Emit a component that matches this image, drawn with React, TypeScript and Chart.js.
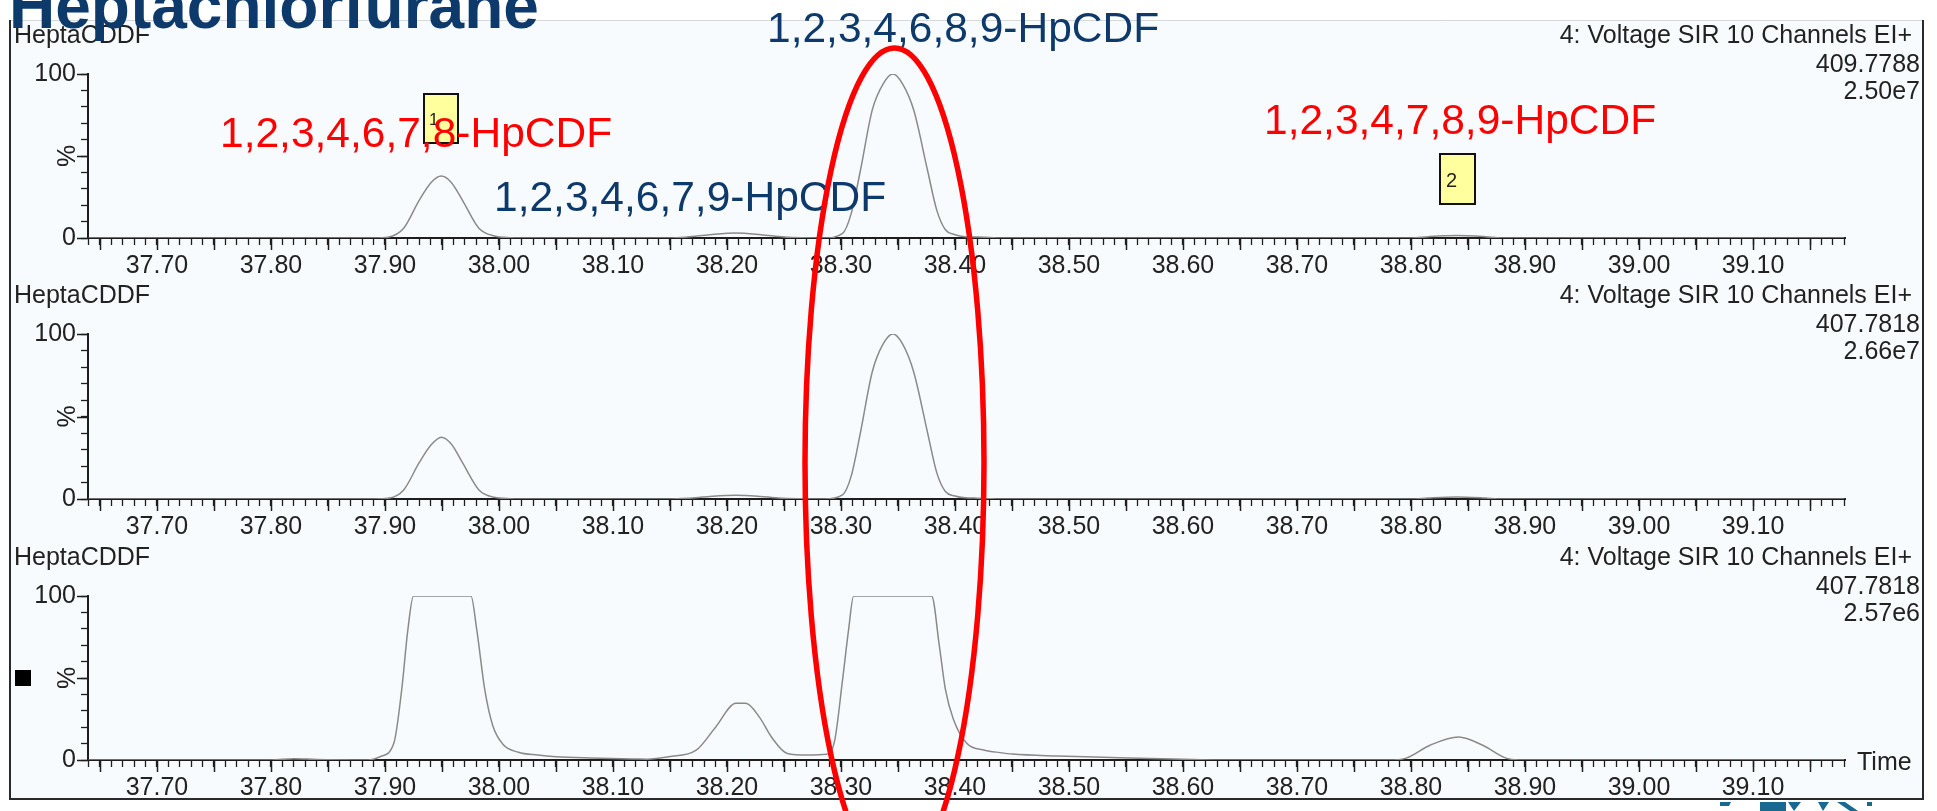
import React, { useEffect, useRef } from 'react';
import { Chart, registerables } from 'chart.js';

Chart.register(...registerables);

// ---------------- data ----------------
const xLabelValues = [37.7, 37.8, 37.9, 38.0, 38.1, 38.2, 38.3, 38.4, 38.5, 38.6, 38.7, 38.8, 38.9, 39.0, 39.1];
const yLabelValues = [0, 100];

const panelNames = ['HeptaCDDF', 'HeptaCDDF', 'HeptaCDDF'];
const panelFunctions = ['4: Voltage SIR 10 Channels EI+', '4: Voltage SIR 10 Channels EI+', '4: Voltage SIR 10 Channels EI+'];
const panelMasses = ['409.7788', '407.7818', '407.7818'];
const panelScales = ['2.50e7', '2.66e7', '2.57e6'];

const p1Time = [37.64, 37.89, 37.9026, 37.9164, 37.93, 37.9407, 37.9494, 37.958, 37.968, 37.9824, 37.996, 38.01, 38.03,
  38.15, 38.165, 38.185, 38.208, 38.23, 38.25, 38.265,
  38.285, 38.3014, 38.309, 38.317, 38.3274, 38.337, 38.3456, 38.354, 38.3638, 38.376, 38.384, 38.3916, 38.4, 38.409, 38.42, 38.43, 38.44,
  38.8, 38.815, 38.84, 38.865, 38.88, 39.18];
const p1Intensity = [0, 0, 0.5, 5.9, 23, 34, 37.8, 34, 23, 6, 1.2, 0.2, 0,
  0, 0.6, 2, 3, 2, 0.6, 0.1,
  0, 2.8, 15, 41, 78, 94, 100, 94, 78, 41, 17, 5, 2, 0.8, 0.6, 0.3, 0,
  0, 0.8, 1.5, 0.8, 0, 0];

const p2Time = [37.64, 37.89, 37.9026, 37.9164, 37.93, 37.9407, 37.9494, 37.958, 37.968, 37.9824, 37.996, 38.01, 38.03,
  38.15, 38.165, 38.185, 38.208, 38.23, 38.25, 38.265,
  38.285, 38.3014, 38.309, 38.317, 38.3274, 38.337, 38.3456, 38.354, 38.3638, 38.376, 38.384, 38.3916, 38.4, 38.409, 38.42, 38.43, 38.44,
  38.8, 38.815, 38.84, 38.865, 38.88, 39.18];
const p2Intensity = [0, 0, 0.4, 5.5, 22, 33, 37.5, 33.5, 22, 5.5, 1, 0.2, 0,
  0, 0.4, 1.5, 2.2, 1.5, 0.4, 0.1,
  0, 2.5, 14, 40, 77, 94, 100, 94, 77, 40, 16, 4.5, 1.8, 0.7, 0.5, 0.2, 0,
  0, 0.6, 1.2, 0.6, 0, 0];

const p3Time = [37.64, 37.8, 37.82, 37.84, 37.885, 37.8956, 37.9077, 37.9147, 37.92, 37.925, 37.9754, 37.9806, 37.9875, 37.9945,
  38.0032, 38.017, 38.034, 38.05, 38.08, 38.12, 38.13, 38.1489, 38.173, 38.19, 38.2078, 38.2165, 38.2286, 38.239, 38.2529,
  38.2702, 38.2875, 38.2945, 38.3014, 38.3066, 38.3111, 38.3795, 38.3864, 38.3916, 38.3985, 38.4105, 38.426, 38.4395, 38.4504,
  38.49, 38.5444, 38.6, 38.65, 38.78, 38.795, 38.8167, 38.8417, 38.863, 38.884, 38.9, 39.18];
const p3Intensity = [0, 0, 0.8, 0.3, 0, 2, 10, 43, 79, 100, 100, 79, 43, 21,
  9.8, 4.7, 3, 2, 1.2, 0.6, 0.5, 2, 6, 20, 34.6, 34.6, 26, 14, 4,
  3, 3.5, 12, 49, 79, 100, 100, 69, 43, 25, 10, 6, 4.5, 3.6,
  2.4, 1.4, 0.5, 0, 0, 1, 9, 14, 9, 1, 0, 0];

const panelTimes = [p1Time, p2Time, p3Time];
const panelIntensities = [p1Intensity, p2Intensity, p3Intensity];

const titleText = 'Heptachlorfurane';
const peakLabelTexts = ['1,2,3,4,6,7,8-HpCDF', '1,2,3,4,6,7,9-HpCDF', '1,2,3,4,6,8,9-HpCDF', '1,2,3,4,7,8,9-HpCDF'];
const peakMarkerTexts = ['1', '2'];

// ---------------- layout & style ----------------
const W = 1937;
const H = 811;
const PLOT_L = 88;
const PLOT_R = 1845;
const PANEL_T = [74, 334, 596];
const PANEL_B = [238, 499, 760];
const X_MIN = 37.6395;
const X_MAX = 39.1807;
const Y_W = 60;
const X_H = 40;
const FONT = '"Liberation Sans", Arial, sans-serif';
const AXIS = '#1e1e1e';
const TEXT = '#222222';
const TRACE = '#8a8a8a';
const NAVY = '#0d3a6a';
const RED = '#ff0000';

const peakLabelStyle = [
  { x: 220, y: 147, color: RED },
  { x: 494, y: 211, color: NAVY },
  { x: 767, y: 42, color: NAVY },
  { x: 1264, y: 134, color: RED },
];
const markerBoxes = [
  { x: 424, y: 94, w: 34, h: 49, tx: 429, ty: 125, size: 17 },
  { x: 1440, y: 154, w: 35, h: 50, tx: 1446, ty: 187, size: 20 },
];

function seg(ctx: CanvasRenderingContext2D, x1: number, y1: number, x2: number, y2: number) {
  ctx.beginPath();
  ctx.moveTo(x1, y1);
  ctx.lineTo(x2, y2);
  ctx.stroke();
}

const backgroundPlugin = {
  id: 'bgFrame',
  beforeDraw(chart: any) {
    const ctx = chart.ctx as CanvasRenderingContext2D;
    ctx.save();
    ctx.fillStyle = '#ffffff';
    ctx.fillRect(0, 0, W, H);
    ctx.fillStyle = '#f8fbfd';
    ctx.fillRect(10, 20, 1913, 779);
    ctx.strokeStyle = '#d4d9de';
    ctx.lineWidth = 1;
    seg(ctx, 10, 20.5, 1923, 20.5);
    ctx.strokeStyle = '#2a2a2a';
    ctx.lineWidth = 2;
    seg(ctx, 10, 20, 10, 800);
    seg(ctx, 1923, 20, 1923, 800);
    seg(ctx, 9, 799, 1924, 799);
    ctx.restore();
  },
};

function decorPlugin(i: number) {
  return {
    id: 'decor' + i,
    afterDraw(chart: any) {
      const ctx = chart.ctx as CanvasRenderingContext2D;
      const xs = chart.scales.x;
      const ys = chart.scales.y;
      const T = PANEL_T[i];
      ctx.save();
      // longer ticks every 0.05 min and at 0 / 50 / 100 %
      ctx.strokeStyle = AXIS;
      ctx.lineWidth = 1.5;
      xs.ticks.forEach((t: any) => {
        const k = Math.round(t.value * 100);
        if (k % 5 === 0) {
          const px = Math.round(xs.getPixelForValue(t.value)) + 0.5;
          seg(ctx, px, ys.bottom, px, ys.bottom + 12);
        }
      });
      [0, 50, 100].forEach((v) => {
        const py = Math.round(ys.getPixelForValue(v)) + 0.5;
        seg(ctx, xs.left - 11, py, xs.left, py);
      });
      // headers
      ctx.fillStyle = TEXT;
      ctx.font = `25px ${FONT}`;
      ctx.textBaseline = 'alphabetic';
      ctx.textAlign = 'left';
      ctx.fillText(panelNames[i], 14, T - 31);
      ctx.textAlign = 'right';
      ctx.fillText(panelFunctions[i], 1912, T - 31);
      ctx.fillText(panelMasses[i], 1920, T - 2);
      ctx.fillText(panelScales[i], 1920, T + 25);
      // rotated %
      ctx.save();
      ctx.translate(68, ys.getPixelForValue(50));
      ctx.rotate(-Math.PI / 2);
      ctx.textAlign = 'center';
      ctx.textBaseline = 'middle';
      ctx.fillText('%', 0, 0);
      ctx.restore();
      if (i === 2) {
        ctx.textAlign = 'left';
        ctx.fillText('Time', 1857, 770);
        ctx.fillStyle = '#000000';
        ctx.fillRect(15, 670, 16, 16);
      }
      ctx.restore();
    },
  };
}

const overlayPlugin = {
  id: 'overlay',
  afterDraw(chart: any) {
    const ctx = chart.ctx as CanvasRenderingContext2D;
    ctx.save();
    // marker boxes
    markerBoxes.forEach((b, k) => {
      ctx.fillStyle = '#ffff9e';
      ctx.fillRect(b.x, b.y, b.w, b.h);
      ctx.strokeStyle = '#111111';
      ctx.lineWidth = 2;
      ctx.strokeRect(b.x, b.y, b.w, b.h);
      ctx.fillStyle = '#222222';
      ctx.font = `${b.size}px ${FONT}`;
      ctx.textAlign = 'left';
      ctx.textBaseline = 'alphabetic';
      ctx.fillText(peakMarkerTexts[k], b.tx, b.ty);
    });
    // peak labels
    ctx.font = `42.5px ${FONT}`;
    ctx.textAlign = 'left';
    ctx.textBaseline = 'alphabetic';
    peakLabelTexts.forEach((t, k) => {
      ctx.fillStyle = peakLabelStyle[k].color;
      ctx.fillText(t, peakLabelStyle[k].x, peakLabelStyle[k].y);
    });
    // title
    ctx.fillStyle = NAVY;
    ctx.font = `bold 64px ${FONT}`;
    ctx.fillText(titleText, 9, 28);
    // red ellipse
    ctx.strokeStyle = RED;
    ctx.lineWidth = 5.5;
    ctx.beginPath();
    ctx.ellipse(894.5, 463, 89.5, 415, 0, 0, Math.PI * 2);
    ctx.stroke();
    // cropped logo fragments below the frame
    ctx.fillStyle = '#17698f';
    const polys = [
      [[1720, 802], [1731, 802], [1729, 806], [1720, 806]],
      [[1760, 802], [1786, 802], [1786, 811], [1760, 811]],
      [[1788, 802], [1801, 802], [1794, 811]],
      [[1818, 802], [1829, 802], [1823, 811]],
      [[1837, 802], [1845, 802], [1858, 811], [1850, 811]],
      [[1867, 802], [1872, 802], [1872, 806], [1867, 806]],
    ];
    polys.forEach((p) => {
      ctx.beginPath();
      p.forEach(([x, y], j) => (j === 0 ? ctx.moveTo(x, y) : ctx.lineTo(x, y)));
      ctx.closePath();
      ctx.fill();
    });
    ctx.restore();
  },
};

function makeConfig(i: number): any {
  const times = panelTimes[i];
  const ints = panelIntensities[i];
  const plugins: any[] = [];
  if (i === 0) plugins.push(backgroundPlugin);
  plugins.push(decorPlugin(i));
  if (i === 2) plugins.push(overlayPlugin);
  return {
    type: 'line',
    data: {
      datasets: [
        {
          data: times.map((t, k) => ({ x: t, y: ints[k] })),
          borderColor: TRACE,
          borderWidth: 1.5,
          pointRadius: 0,
          fill: false,
          cubicInterpolationMode: 'monotone',
        },
      ],
    },
    options: {
      responsive: false,
      animation: false,
      devicePixelRatio: 1,
      events: [],
      layout: {
        padding: { left: PLOT_L - Y_W, right: W - PLOT_R, top: PANEL_T[i], bottom: H - PANEL_B[i] - X_H },
      },
      plugins: { legend: { display: false }, tooltip: { enabled: false }, title: { display: false } },
      scales: {
        x: {
          type: 'linear',
          min: X_MIN,
          max: X_MAX,
          afterFit: (s: any) => { s.height = X_H; },
          border: { display: true, color: AXIS, width: 2 },
          grid: { display: true, drawOnChartArea: false, drawTicks: true, tickLength: 7, tickColor: AXIS, tickWidth: 1.3 },
          ticks: {
            stepSize: 0.01,
            includeBounds: false,
            autoSkip: false,
            maxRotation: 0,
            minRotation: 0,
            padding: 6,
            color: TEXT,
            font: { family: FONT, size: 25 },
            callback: (v: number) => {
              const k = Math.round(v * 100);
              const hit = xLabelValues.find((l) => Math.round(l * 100) === k);
              return hit !== undefined ? hit.toFixed(2) : '';
            },
          },
        },
        y: {
          type: 'linear',
          min: 0,
          max: 100,
          afterFit: (s: any) => { s.width = Y_W; },
          border: { display: true, color: AXIS, width: 2 },
          grid: { display: true, drawOnChartArea: false, drawTicks: true, tickLength: 7, tickColor: AXIS, tickWidth: 1.3 },
          ticks: {
            stepSize: 10,
            autoSkip: false,
            padding: 5,
            color: TEXT,
            font: { family: FONT, size: 25 },
            callback: (v: number) => (yLabelValues.includes(v) ? String(v) : ''),
          },
        },
      },
    },
    plugins,
  };
}

export default function App() {
  const r0 = useRef<HTMLCanvasElement>(null);
  const r1 = useRef<HTMLCanvasElement>(null);
  const r2 = useRef<HTMLCanvasElement>(null);
  useEffect(() => {
    document.body.style.margin = '0';
    document.body.style.overflow = 'hidden';
    const refs = [r0, r1, r2];
    const charts = refs.map((r, i) => new Chart(r.current as HTMLCanvasElement, makeConfig(i)));
    return () => charts.forEach((c) => c.destroy());
  }, []);
  const style: React.CSSProperties = { position: 'absolute', left: 0, top: 0, width: W, height: H };
  return (
    <div style={{ position: 'relative', width: W, height: H, overflow: 'hidden', background: '#ffffff' }}>
      <canvas ref={r0} width={W} height={H} style={style} />
      <canvas ref={r1} width={W} height={H} style={style} />
      <canvas ref={r2} width={W} height={H} style={style} />
    </div>
  );
}
